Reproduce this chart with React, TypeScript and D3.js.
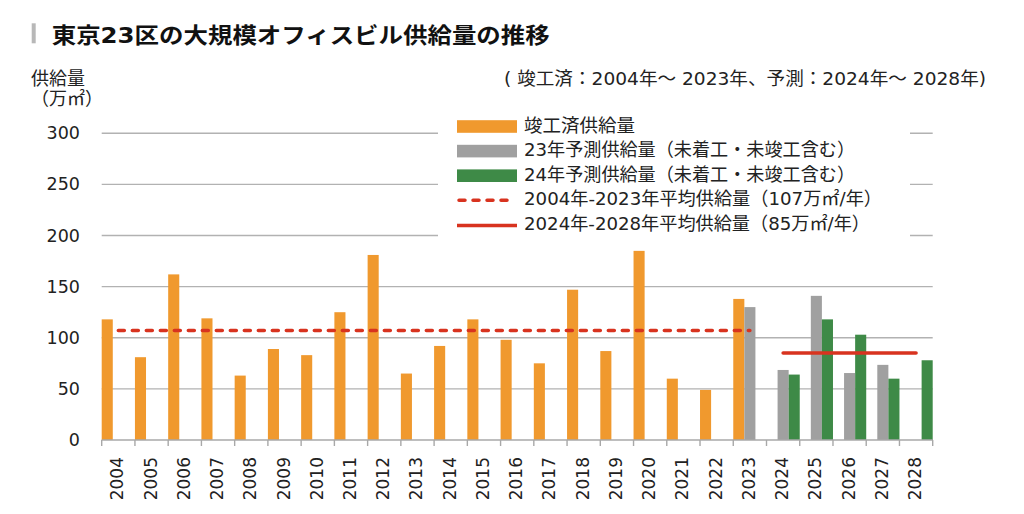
import React from "react";
import * as d3 from "d3";

const years = ["2004","2005","2006","2007","2008","2009","2010","2011","2012","2013","2014","2015","2016","2017","2018","2019","2020","2021","2022","2023","2024","2025","2026","2027","2028"];
const completed: (number | null)[] = [118, 81, 162, 119, 63, 89, 83, 125, 181, 65, 92, 118, 98, 75, 147, 87, 185, 60, 49, 138, null, null, null, null, null];
const forecast23: (number | null)[] = [null, null, null, null, null, null, null, null, null, null, null, null, null, null, null, null, null, null, null, 130, 68.5, 141, 65.5, 73.5, null];
const forecast24: (number | null)[] = [null, null, null, null, null, null, null, null, null, null, null, null, null, null, null, null, null, null, null, null, 64, 118, 103, 60, 78];
const avgPast = 107;
const avgFuture = 85;
const pastRange = ["2004", "2023"];
const futureRange = ["2024", "2028"];
const yTicks = [0, 50, 100, 150, 200, 250, 300];
const seriesKeys = ["completed", "forecast23", "forecast24"];
const legendLabels = [
  "竣工済供給量",
  "23年予測供給量（未着工・未竣工含む）",
  "24年予測供給量（未着工・未竣工含む）",
  "2004年-2023年平均供給量（107万㎡/年）",
  "2024年-2028年平均供給量（85万㎡/年）",
];
const legendWidths = [111, 331, 331, 358, 346];
const title = "東京23区の大規模オフィスビル供給量の推移";
const subtitle = "( 竣工済：2004年～ 2023年、予測：2024年～ 2028年)";

const ORANGE = "#F0992E";
const GRAY = "#A0A0A0";
const GREEN = "#3E8A47";
const RED = "#D8331F";
const FONT = "'DejaVu Sans', 'Noto Sans CJK JP', sans-serif";

export default function App() {
  const W = 1024, H = 514;
  const x = d3.scaleBand<string>().domain(years).range([101.7, 932.7]).paddingInner(0).paddingOuter(0);
  const sub = d3.scaleBand<string>().domain(seriesKeys).range([0, x.bandwidth()]).padding(0);
  const y = d3.scaleLinear().domain([0, 300]).range([440, 133.3]);
  const series = [
    { key: "completed", values: completed, color: ORANGE },
    { key: "forecast23", values: forecast23, color: GRAY },
    { key: "forecast24", values: forecast24, color: GREEN },
  ];
  const center = (yr: string) => (x(yr) as number) + x.bandwidth() / 2;
  const tickPositions = years.map((yr) => x(yr) as number).concat([x.range()[1]]);
  const lineGen = d3.line<[number, number]>().x((d) => d[0]).y((d) => d[1]);

  const legendX = 457;
  const rowY = (i: number) => 125 + 24.6 * i;

  return (
    <svg width={W} height={H} style={{ position: "absolute", left: 0, top: 0, background: "#fff" }} fontFamily={FONT}>
      <rect x={0} y={0} width={W} height={H} fill="#fff" />
      {/* title */}
      <rect x={31.7} y={23.3} width={4} height={20} fill="#B8B8B8" />
      <text x={51.7} y={35} dominantBaseline="central" fontSize={22} fontWeight="bold" fill="#111" textLength={498} lengthAdjust="spacingAndGlyphs">{title}</text>
      <text x={31} y={78} dominantBaseline="central" fontSize={18} fill="#222">供給量</text>
      <text x={31} y={98.5} dominantBaseline="central" fontSize={18} fill="#222">（万㎡）</text>
      <text x={986} y={78} dominantBaseline="central" textAnchor="end" fontSize={18} fill="#222" textLength={482} lengthAdjust="spacingAndGlyphs">{subtitle}</text>

      {/* gridlines */}
      {yTicks.filter((t) => t > 0).map((t) => (
        <line key={t} x1={x.range()[0]} x2={x.range()[1]} y1={y(t)} y2={y(t)} stroke="#B2B2B2" strokeWidth={1.4} />
      ))}
      {/* y labels */}
      {yTicks.map((t) => (
        <text key={t} x={80} y={y(t)} textAnchor="end" dominantBaseline="central" fontSize={17.5} fill="#222">{t}</text>
      ))}

      {/* bars */}
      {series.map((s) => (
        <g key={s.key}>
          {years.map((yr, i) => {
            const v = s.values[i];
            if (v == null) return null;
            const bx = (x(yr) as number) + (sub(s.key) as number);
            return <rect key={yr} x={bx} y={y(v)} width={sub.bandwidth()} height={y(0) - y(v)} fill={s.color} />;
          })}
        </g>
      ))}

      {/* x axis */}
      <line x1={x.range()[0]} x2={x.range()[1]} y1={y(0)} y2={y(0)} stroke="#A8A8A8" strokeWidth={1.4} />
      {tickPositions.map((p, i) => (
        <line key={i} x1={p} x2={p} y1={y(0)} y2={y(0) + 6} stroke="#A8A8A8" strokeWidth={1.4} />
      ))}
      {years.map((yr) => (
        <text key={yr} transform={`translate(${center(yr) - 1},457) rotate(-90)`} textAnchor="end" dominantBaseline="central" fontSize={17} fill="#222">{yr}</text>
      ))}

      {/* average lines */}
      <path d={lineGen([[center(pastRange[0]), y(avgPast)], [center(pastRange[1]), y(avgPast)]]) as string} stroke={RED} strokeWidth={3.5} strokeDasharray="6 8" strokeLinecap="round" fill="none" />
      <path d={lineGen([[center(futureRange[0]), y(avgFuture)], [center(futureRange[1]), y(avgFuture)]]) as string} stroke={RED} strokeWidth={3.5} strokeLinecap="round" fill="none" />

      {/* legend */}
      <rect x={438} y={110} width={472} height={128} fill="#fff" />
      <rect x={legendX} y={rowY(0) + 1.5 - 6.3} width={60} height={12.6} fill={ORANGE} />
      <rect x={legendX} y={rowY(1) + 1.5 - 6.3} width={60} height={12.6} fill={GRAY} />
      <rect x={legendX} y={rowY(2) + 1.5 - 6.3} width={60} height={12.6} fill={GREEN} />
      <line x1={legendX + 2} x2={legendX + 58} y1={rowY(3) + 1.5} y2={rowY(3) + 1.5} stroke={RED} strokeWidth={3.5} strokeDasharray="6 8" strokeLinecap="round" />
      <line x1={legendX} x2={legendX + 60} y1={rowY(4) + 2} y2={rowY(4) + 2} stroke={RED} strokeWidth={3.5} />
      {legendLabels.map((l, i) => (
        <text key={i} x={524} y={rowY(i)} dominantBaseline="central" fontSize={18.5} fill="#222" textLength={legendWidths[i]} lengthAdjust="spacingAndGlyphs">{l}</text>
      ))}
    </svg>
  );
}
